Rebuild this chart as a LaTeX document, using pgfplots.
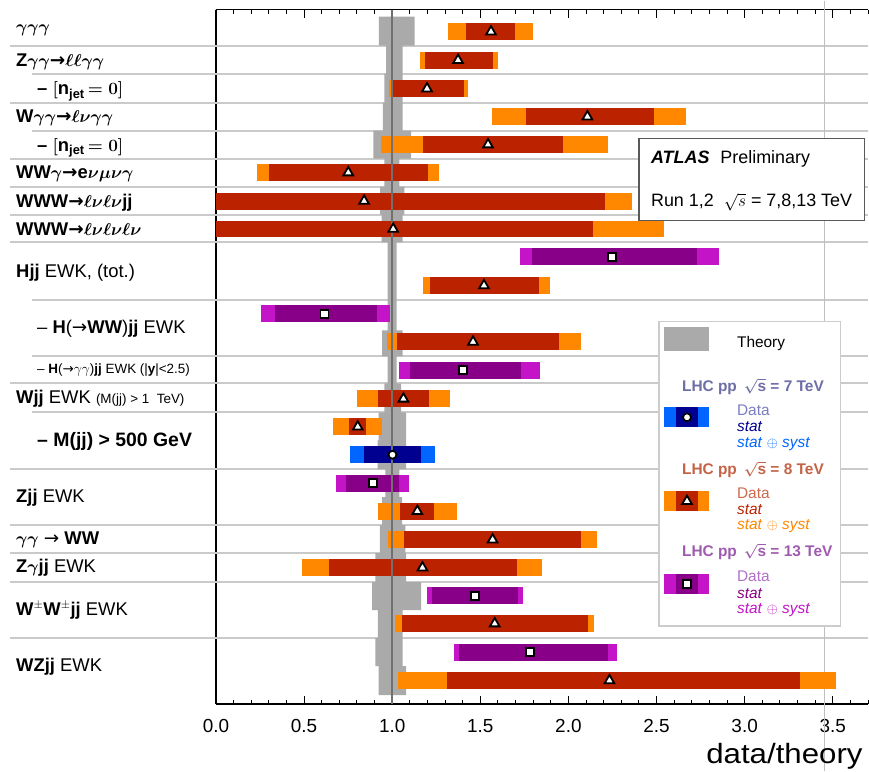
\documentclass[border=0pt]{standalone}
\usepackage{fontspec}
\setmainfont{Liberation Sans}
\newfontfamily\widesans{Liberation Sans}[FakeStretch=1.12]
\newfontfamily\arrowfont{DejaVu Sans}
\newcommand\ar{{\arrowfont →}}
\newcommand\arb{{\arrowfont\bfseries →}}
\usepackage{pgfplots}
\usepackage{pgfplotstable}
\pgfplotsset{compat=1.18}

\definecolor{syst8}{HTML}{FF8800}
\definecolor{stat8}{HTML}{BB2200}
\definecolor{syst13}{HTML}{C414C8}
\definecolor{stat13}{HTML}{880088}
\definecolor{syst7}{HTML}{0066FF}
\definecolor{stat7}{HTML}{000090}
\definecolor{theory}{HTML}{AAAAAA}
\definecolor{sepgray}{HTML}{CACACA}
\definecolor{unity}{HTML}{707070}
\definecolor{title7}{HTML}{6E6EA8}
\definecolor{data7}{HTML}{7C7CC0}
\definecolor{title8}{HTML}{C46348}
\definecolor{data8}{HTML}{CC6A50}
\definecolor{title13}{HTML}{A05BB0}
\definecolor{data13}{HTML}{B070C8}

% rows: y = vertical slot, v = central value, sl/sh = stat+syst band, tl/th = stat band
\pgfplotstableread{
y     v     sl    sh    tl    th
31    1.561 1.318 1.802 1.421 1.699
59.5  1.374 1.160 1.600 1.189 1.572
88    1.198 0.985 1.430 1.000 1.406
116   2.108 1.568 2.669 1.761 2.488
144   1.544 0.938 2.227 1.173 1.971
172   0.751 0.235 1.266 0.301 1.202
200.5 0.841 0.000 2.360 0.000 2.208
228.5 1.006 0.000 2.543 0.000 2.141
285   1.521 1.174 1.897 1.215 1.835
341.5 1.459 0.972 2.072 1.030 1.948
398.5 1.064 0.798 1.327 0.917 1.209
426.5 0.805 0.662 0.945 0.754 0.854
511   1.143 0.918 1.366 1.045 1.240
539.5 1.570 0.979 2.165 1.070 2.073
567.5 1.172 0.490 1.853 0.641 1.706
623.5 1.582 1.015 2.148 1.056 2.110
680.5 2.233 1.032 3.516 1.309 3.313
}\eightTeV

\pgfplotstableread{
y     v     sl    sh    tl    th
256.5 2.246 1.725 2.856 1.793 2.732
313.5 0.616 0.258 0.989 0.333 0.915
370   1.402 1.041 1.838 1.104 1.729
483   0.890 0.683 1.098 0.739 1.041
595.5 1.472 1.200 1.740 1.226 1.716
652   1.784 1.349 2.275 1.377 2.225
}\thirteenTeV

\pgfplotstableread{
y     v     sl    sh    tl    th
454.5 1.002 0.760 1.241 0.843 1.162
}\sevenTeV

\newcommand\lf{\fontsize{18.5}{20}\selectfont}
\newcommand\smallf{\fontsize{13.5}{15}\selectfont}
\newcommand\gf{\fontsize{15.5}{16}\selectfont}

\pgfplotsset{
  band/.style n args={2}{only marks, mark=*, mark size=0pt,
    mark options={draw=none, fill=none}, forget plot,
    error bars/.cd, x dir=both, x explicit, error mark=none,
    error bar style={draw=#1, line width=#2}},
  sysband/.style n args={2}{band={#1}{#2},
    /pgfplots/table/x=v, /pgfplots/table/y=y},
  m8/.style={only marks, forget plot, mark=triangle*, mark size=5.6bp,
    mark options={fill=white, draw=black, line width=1.8bp}},
  m13/.style={only marks, forget plot, mark=square*, mark size=4bp,
    mark options={fill=white, draw=black, line width=1.9bp}},
  m7/.style={only marks, forget plot, mark=*, mark size=4bp,
    mark options={fill=white, draw=black, line width=1.8bp}},
  sep/.style={draw=sepgray, line width=2bp, forget plot},
}

\begin{document}
\begin{tikzpicture}
\begin{axis}[
  scale only axis, width=652.8bp, height=695bp,
  xmin=0, xmax=3.7, ymin=9, ymax=704, y dir=reverse,
  axis x line=box, axis y line=left,
  axis line style={-, line width=1.4bp, black},
  clip=false,
  ytick=\empty,
  xtick={0,0.5,...,3.5},
  minor xtick={0,0.1,...,3.7},
  major tick length=8bp, minor tick length=4bp,
  tick style={black, line width=1bp},
  xticklabel style={font=\fontsize{19}{19}\selectfont, inner sep=0pt, yshift=-15bp},
  xticklabel={\pgfmathprintnumber[fixed, fixed zerofill, precision=1, assume math mode=true]{\tick}},
]

% bounding frame of the whole figure
\path (axis cs:-1.225,0) rectangle (axis cs:3.7,771);

% row separators
\pgfplotsinvokeforeach{45,102,158,186,214,242,383,469,525,553,582,638}{
  \addplot[sep] coordinates {(-1.168,#1) (3.7,#1)};
}
\pgfplotsinvokeforeach{73,130,300,356,412}{
  \addplot[sep] coordinates {(-1.044,#1) (3.7,#1)};
}

% light reference line on the right
\addplot[draw=black!25, line width=1.5bp, forget plot] coordinates {(3.453,0) (3.453,771)};

% theory uncertainty band
\addplot[fill=theory, draw=none, forget plot] coordinates {
(0.925,16)(0.925,45)(0.966,45)(0.966,73)(0.956,73)(0.956,102)(0.947,102)(0.947,130)
(0.894,130)(0.894,158)(0.956,158)(0.956,186)(0.932,186)(0.932,214)(0.941,214)(0.941,242)
(0.975,242)(0.975,330)(0.943,330)(0.943,356)(0.975,356)(0.975,383)(0.956,383)(0.956,412)
(0.924,412)(0.924,440)(0.917,440)(0.917,469)(0.962,469)(0.962,497)(0.943,497)(0.943,525)
(0.930,525)(0.930,553)(0.905,553)(0.905,582)(0.887,582)(0.887,610)(0.919,610)(0.919,638)
(0.905,638)(0.905,666)(0.924,666)(0.924,695)
(1.079,695)(1.079,666)(1.060,666)(1.060,610)(1.164,610)(1.164,582)(1.080,582)(1.080,553)
(1.075,553)(1.075,525)(1.057,525)(1.057,497)(1.041,497)(1.041,469)(1.079,469)(1.079,412)
(1.051,412)(1.051,383)(1.025,383)(1.025,356)(1.060,356)(1.060,330)(1.026,330)(1.026,242)
(1.060,242)(1.060,214)(1.070,214)(1.070,186)(1.041,186)(1.041,158)(1.108,158)(1.108,130)
(1.060,130)(1.060,45)(1.127,45)(1.127,16)
} --cycle;

% measurements: stat+syst, then stat
\addplot[sysband={syst8}{17bp}] table[x error plus expr=\thisrow{sh}-\thisrow{v}, x error minus expr=\thisrow{v}-\thisrow{sl}] {\eightTeV};
\addplot[sysband={stat8}{17bp}] table[x error plus expr=\thisrow{th}-\thisrow{v}, x error minus expr=\thisrow{v}-\thisrow{tl}] {\eightTeV};
\addplot[sysband={syst13}{17bp}] table[x error plus expr=\thisrow{sh}-\thisrow{v}, x error minus expr=\thisrow{v}-\thisrow{sl}] {\thirteenTeV};
\addplot[sysband={stat13}{17bp}] table[x error plus expr=\thisrow{th}-\thisrow{v}, x error minus expr=\thisrow{v}-\thisrow{tl}] {\thirteenTeV};
\addplot[sysband={syst7}{17bp}] table[x error plus expr=\thisrow{sh}-\thisrow{v}, x error minus expr=\thisrow{v}-\thisrow{sl}] {\sevenTeV};
\addplot[sysband={stat7}{17bp}] table[x error plus expr=\thisrow{th}-\thisrow{v}, x error minus expr=\thisrow{v}-\thisrow{tl}] {\sevenTeV};

% unity line
\addplot[draw=unity, line width=1.3bp, forget plot] coordinates {(1,9) (1,704)};

% central values
\addplot[m8] table[x=v, y=y] {\eightTeV};
\addplot[m13] table[x=v, y=y] {\thirteenTeV};
\addplot[m7] table[x=v, y=y] {\sevenTeV};

% ATLAS box
\draw[fill=white, draw=black!65, line width=1.3bp] (axis cs:2.401,138) rectangle (axis cs:3.681,220);
\node[anchor=base west, inner sep=0pt, font=\fontsize{18}{18}\selectfont] at (axis cs:2.468,163)
  {\textbf{\textit{ATLAS}}\hspace{11bp}Preliminary};
\node[anchor=base west, inner sep=0pt, font=\fontsize{18}{18}\selectfont] at (axis cs:2.468,206)
  {Run 1,2\hspace{10bp}$\sqrt{s}$ = 7,8,13 TeV};

% legend
\draw[fill=white, draw=black!20, line width=1.3bp] (axis cs:2.514,321) rectangle (axis cs:3.545,626);
\addplot[band={theory}{24bp}] coordinates {(2.670,339) +- (0.1275,0)};
\node[anchor=base west, inner sep=0pt, font=\gf] at (axis cs:2.956,347) {Theory};

\node[anchor=base west, inner sep=0pt, font=\gf, text=title7] at (axis cs:2.644,391)
  {\textbf{LHC pp\hspace{7bp}{\boldmath$\sqrt{\mbox{\textbf{s}}}$} = 7 TeV}};
\addplot[band={syst7}{20bp}] coordinates {(2.670,417) +- (0.1275,0)};
\addplot[band={stat7}{20bp}] coordinates {(2.673,417) +- (0.062,0)};
\addplot[m7] coordinates {(2.673,417)};
\node[anchor=base west, inner sep=0pt, font=\gf, text=data7] at (axis cs:2.956,415) {Data};
\node[anchor=base west, inner sep=0pt, font=\gf, text=stat7] at (axis cs:2.956,431) {\textit{stat}};
\node[anchor=base west, inner sep=0pt, font=\gf, text=syst7] at (axis cs:2.956,447) {\textit{stat} $\oplus$ \textit{syst}};

\node[anchor=base west, inner sep=0pt, font=\gf, text=title8] at (axis cs:2.644,474)
  {\textbf{LHC pp\hspace{7bp}{\boldmath$\sqrt{\mbox{\textbf{s}}}$} = 8 TeV}};
\addplot[band={syst8}{20bp}] coordinates {(2.670,501) +- (0.1275,0)};
\addplot[band={stat8}{20bp}] coordinates {(2.673,501) +- (0.062,0)};
\addplot[m8] coordinates {(2.673,501)};
\node[anchor=base west, inner sep=0pt, font=\gf, text=data8] at (axis cs:2.956,498) {Data};
\node[anchor=base west, inner sep=0pt, font=\gf, text=stat8] at (axis cs:2.956,514) {\textit{stat}};
\node[anchor=base west, inner sep=0pt, font=\gf, text=syst8] at (axis cs:2.956,529) {\textit{stat} $\oplus$ \textit{syst}};

\node[anchor=base west, inner sep=0pt, font=\gf, text=title13] at (axis cs:2.644,556)
  {\textbf{LHC pp\hspace{7bp}{\boldmath$\sqrt{\mbox{\textbf{s}}}$} = 13 TeV}};
\addplot[band={syst13}{20bp}] coordinates {(2.670,584) +- (0.1275,0)};
\addplot[band={stat13}{20bp}] coordinates {(2.673,584) +- (0.062,0)};
\addplot[m13] coordinates {(2.673,584)};
\node[anchor=base west, inner sep=0pt, font=\gf, text=data13] at (axis cs:2.956,581) {Data};
\node[anchor=base west, inner sep=0pt, font=\gf, text=stat13] at (axis cs:2.956,598) {\textit{stat}};
\node[anchor=base west, inner sep=0pt, font=\gf, text=syst13] at (axis cs:2.956,613) {\textit{stat} $\oplus$ \textit{syst}};

% axis title
\node[anchor=base east, inner sep=0pt, font=\widesans\fontsize{28}{28}\selectfont] at (axis cs:3.670,763.5) {data/theory};

% process labels
\begin{scope}[every node/.style={anchor=base west, inner sep=0pt, font=\lf}]
\node at (axis cs:-1.134,32)    {{\boldmath$\gamma\gamma\gamma$}};
\node at (axis cs:-1.134,65.7)  {\textbf{Z}{\boldmath$\gamma\gamma$}\arb{\boldmath$\ell\ell\gamma\gamma$}};
\node at (axis cs:-1.015,94.3)  {\textbf{–\ }{\boldmath$[$}\textbf{n\textsubscript{jet}}\,{\boldmath$=0]$}};
\node at (axis cs:-1.134,122.3) {\textbf{W}{\boldmath$\gamma\gamma$}\arb{\boldmath$\ell\nu\gamma\gamma$}};
\node at (axis cs:-1.015,150.7) {\textbf{–\ }{\boldmath$[$}\textbf{n\textsubscript{jet}}\,{\boldmath$=0]$}};
\node at (axis cs:-1.134,178.3) {\textbf{WW}{\boldmath$\gamma$}\arb\textbf{e}{\boldmath$\nu\mu\nu\gamma$}};
\node at (axis cs:-1.134,206.7) {\textbf{WWW}\arb{\boldmath$\ell\nu\ell\nu$}\textbf{jj}};
\node at (axis cs:-1.134,235)   {\textbf{WWW}\arb{\boldmath$\ell\nu\ell\nu\ell\nu$}};
\node at (axis cs:-1.134,277.3) {\textbf{Hjj} EWK, (tot.)};
\node at (axis cs:-1.015,333.3) {–\ \textbf{H}(\ar\textbf{WW})\textbf{jj} EWK};
\node[font=\smallf] at (axis cs:-1.015,373.3) {–\ \textbf{H}(\ar$\gamma\gamma$)\textbf{jj} EWK (|\textbf{y}|<2.5)};
\node at (axis cs:-1.134,403.3) {\textbf{Wjj} EWK {\smallf (M(jj) > 1\ \ TeV)}};
\node[font=\fontsize{19.5}{20}\selectfont] at (axis cs:-1.015,446) {\textbf{– M(jj) > 500 GeV}};
\node at (axis cs:-1.134,502.3) {\textbf{Zjj} EWK};
\node at (axis cs:-1.134,544)   {{\boldmath$\gamma\gamma$} \ar\ \textbf{WW}};
\node at (axis cs:-1.134,572.3) {\textbf{Z}{\boldmath$\gamma$}\textbf{jj} EWK};
\node at (axis cs:-1.134,615)   {\textbf{W$^{\pm}$W$^{\pm}$jj} EWK};
\node at (axis cs:-1.134,671)   {\textbf{WZjj} EWK};
\end{scope}

\end{axis}
\end{tikzpicture}
\end{document}
